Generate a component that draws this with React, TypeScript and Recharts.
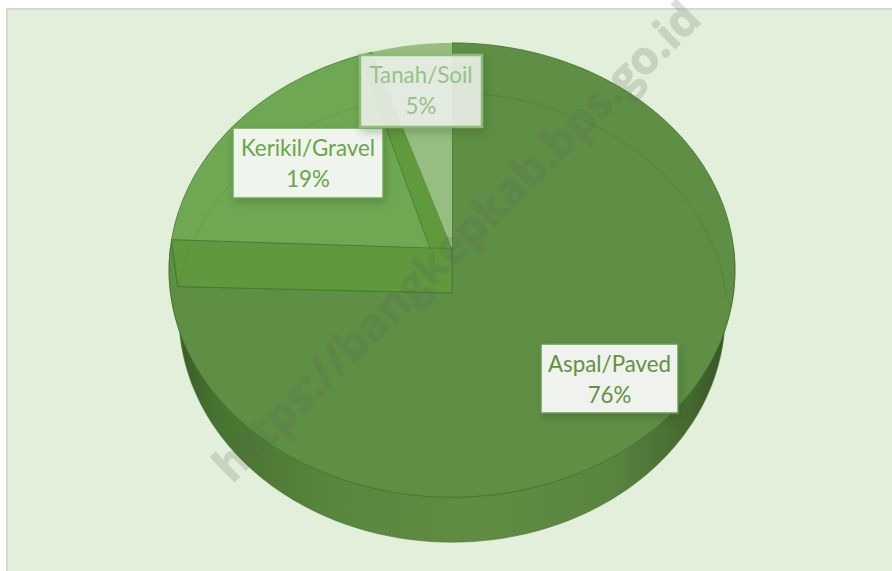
import { PieChart, Pie, Cell } from "recharts";

const categories = ["Aspal/Paved", "Kerikil/Gravel", "Tanah/Soil"];
const shares = [75.6, 19.4, 5];
const percentLabels = ["76%", "19%", "5%"];

const FACE_COLORS = ["#5f8f45", "#6fa852", "#97bd80"];
const TEXT_COLORS = ["#5f9244", "#68a64a", "#98c187"];
const BORDER_COLORS = ["#6a9a50", "#6fa852", "#8fbb77"];
const LABEL_BOXES = [
  { x: 541, y: 344, w: 137, h: 69, fill: "#eff2ed" },
  { x: 233, y: 128, w: 150, h: 70, fill: "#eff4ed" },
  { x: 360, y: 55, w: 122, h: 72, fill: "rgba(245,248,243,0.86)" },
];

const pieData = categories.map((name, i) => ({ name, value: shares[i], label: percentLabels[i] }));

const DEPTH = 45;
const PERSPECTIVE = 0.097;

// tilted disc: circle angle -> screen point, the far side is squashed a bit
const project = (cx: number, cy: number, r: number, deg: number, dy = 0, scale = 1) => {
  const t = (deg * Math.PI) / 180;
  const u = Math.cos(t);
  const v = Math.sin(t);
  const d = 1 + PERSPECTIVE * v;
  return [cx + (r * 0.995 * scale * u) / d, cy + dy - (r * 0.795 * v) / d];
};

const arcPoints = (cx: number, cy: number, r: number, from: number, to: number, dy = 0, scale = 1) => {
  const pts: number[][] = [];
  const steps = Math.max(2, Math.ceil(Math.abs(to - from)));
  for (let i = 0; i <= steps; i++) {
    pts.push(project(cx, cy, r, from + ((to - from) * i) / steps, dy, scale));
  }
  return pts;
};

const toPath = (pts: number[][], close = false) =>
  pts.map((p, i) => `${i ? "L" : "M"}${p[0].toFixed(1)} ${p[1].toFixed(1)}`).join(" ") + (close ? " Z" : "");

const SliceShape = (props: any) => {
  const { cx, cy, outerRadius: r, startAngle, endAngle, index } = props;
  const outer = arcPoints(cx, cy, r, startAngle, endAngle);
  const edge = "#487631";

  if (index === 0) {
    // the big slice carries the drum side, the cut wall and the faint back rim
    const frontTop = arcPoints(cx, cy, r, 0, -180);
    const frontBottom = arcPoints(cx, cy, r, -180, 0, DEPTH, 0.965);
    const last = outer[outer.length - 1];
    const wallLow = [last[0] + 6, last[1] + 47];
    const apexLow = [cx, cy + DEPTH];
    return (
      <g>
        <defs>
          <linearGradient id="drumSide" x1="0" y1="0" x2="1" y2="0">
            <stop offset="0" stopColor="#33552a" />
            <stop offset="0.08" stopColor="#48722f" />
            <stop offset="0.3" stopColor="#5a8740" />
            <stop offset="0.55" stopColor="#608c43" />
            <stop offset="0.78" stopColor="#5a8540" />
            <stop offset="0.92" stopColor="#44682f" />
            <stop offset="1" stopColor="#334f25" />
          </linearGradient>
        </defs>
        <path d={toPath([...frontBottom, ...frontTop.slice().reverse()], true)} fill="url(#drumSide)" stroke="#4a7433" strokeWidth={0.6} />
        <path d={toPath([...outer, wallLow, apexLow], true)} fill={FACE_COLORS[0]} stroke={edge} strokeWidth={0.9} />
        <path d={toPath([last, [cx, cy], apexLow, wallLow], true)} fill="#5f983d" stroke={edge} strokeWidth={0.8} />
        <path d={toPath(arcPoints(cx, cy, r, 0, 90, 50, 0.975))} fill="none" stroke="#3f6a2c" strokeOpacity={0.35} />
      </g>
    );
  }

  if (index === 1) {
    const inner = arcPoints(cx, cy, r, startAngle, endAngle + 3);
    const tip = project(cx, cy, r, endAngle);
    const shoulder = inner[inner.length - 1];
    const apexIn = [cx - 22, cy];
    return (
      <g>
        <path d={toPath([...inner, apexIn], true)} fill={FACE_COLORS[1]} stroke={edge} strokeWidth={0.8} />
        <path d={toPath([shoulder, tip, [cx, cy], apexIn], true)} fill="#5f9a3c" stroke={edge} strokeWidth={0.6} />
        <path d={toPath(arcPoints(cx, cy, r, endAngle, startAngle, 50, 0.975))} fill="none" stroke="#4f7d36" strokeOpacity={0.3} />
      </g>
    );
  }

  return <path d={toPath([...outer, [cx, cy]], true)} fill={FACE_COLORS[index]} stroke="none" />;
};

const SliceLabel = (props: any) => {
  const { index, name, label } = props;
  const box = LABEL_BOXES[index];
  const mid = box.x + box.w / 2;
  return (
    <g>
      <rect
        x={box.x}
        y={box.y}
        width={box.w}
        height={box.h}
        fill={box.fill}
        stroke={BORDER_COLORS[index]}
        strokeWidth={index === 2 ? 2.5 : 1.5}
        style={{ filter: "drop-shadow(2px 4px 4px rgba(40,70,25,0.3))" }}
      />
      <text x={mid} y={box.y + 28} textAnchor="middle" fontFamily="Lato" fontSize={22.3} fill={TEXT_COLORS[index]}>
        {name}
      </text>
      <text x={mid} y={box.y + 59} textAnchor="middle" fontFamily="Lato" fontSize={22.3} fill={TEXT_COLORS[index]}>
        {label}
      </text>
    </g>
  );
};

export default function App() {
  return (
    <div style={{ position: "absolute", left: 0, top: 0, width: 892, height: 571, overflow: "hidden", background: "#fff" }}>
      <div
        style={{
          position: "absolute",
          left: 6,
          top: 8,
          width: 890,
          height: 570,
          boxSizing: "border-box",
          background: "#e2efda",
          border: "2px solid #d6d6d6",
        }}
      />
      <PieChart width={892} height={571} style={{ position: "absolute", left: 0, top: 0 }} margin={{ top: 0, right: 0, bottom: 0, left: 0 }}>
        <Pie
          data={pieData}
          dataKey="value"
          nameKey="name"
          cx={452}
          cy={248}
          outerRadius={283}
          startAngle={90}
          endAngle={-270}
          stroke="none"
          shape={SliceShape}
          label={SliceLabel}
          labelLine={false}
          isAnimationActive={false}
        >
          {pieData.map((d, i) => (
            <Cell key={d.name} fill={FACE_COLORS[i]} />
          ))}
        </Pie>
      </PieChart>
      <svg width={892} height={571} style={{ position: "absolute", left: 0, top: 0, pointerEvents: "none" }}>
        <text
          x={0}
          y={0}
          transform="translate(232 484) rotate(-44.5)"
          fontFamily="Open Sans"
          fontWeight="bold"
          fontSize={45}
          fill="#566656"
          stroke="#566656"
          strokeWidth={1.2}
          opacity={0.2}
        >
          https://bangkepkab.bps.go.id
        </text>
      </svg>
    </div>
  );
}
